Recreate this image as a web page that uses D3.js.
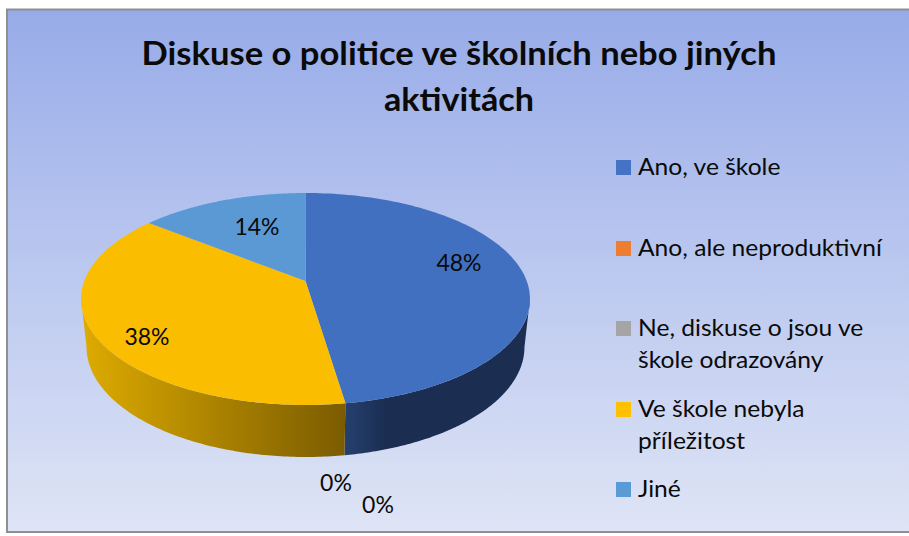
<!DOCTYPE html>
<html lang="cs"><head><meta charset="utf-8">
<script src="https://cdn.jsdelivr.net/npm/d3@7"></script>
<style>html,body{margin:0;padding:0;background:#fff;overflow:hidden}svg{display:block}text{font-family:Lato,"Open Sans",sans-serif;fill:#0a0a0a}</style>
</head><body><div id="c"></div>
<script>
const titleLines = ["Diskuse o politice ve školních nebo jiných", "aktivitách"];
const categories = ["Ano, ve škole", "Ano, ale neproduktivní", "Ne, diskuse o jsou ve škole odrazovány", "Ve škole nebyla příležitost", "Jiné"];
const legendLines = [["Ano, ve škole"], ["Ano, ale neproduktivní"], ["Ne, diskuse o jsou ve", "škole odrazovány"], ["Ve škole nebyla", "příležitost"], ["Jiné"]];
const values = [47.6, 0, 0, 38.1, 14.3];
const colors = ["#4472c4", "#ed7d31", "#a5a5a5", "#ffc000", "#5b9bd5"];
const topColors = ["#4170c0", "#ed7d31", "#a5a5a5", "#fbbd00", "#5b99d5"];
const legendY = [167, 248, 328, 409, 489];
const labelPos = [[459, 263], [336, 483], [378, 505], [147, 337], [257, 227]];

const W = 909, H = 536;
const svg = d3.select("#c").append("svg").attr("width", W).attr("height", H);
const defs = svg.append("defs");
const bg = defs.append("linearGradient").attr("id", "bg").attr("x1", 0.5).attr("y1", 0).attr("x2", 0.5).attr("y2", 1);
bg.append("stop").attr("offset", 0).attr("stop-color", "#97abe8");
bg.append("stop").attr("offset", 1).attr("stop-color", "#dfe5f6");
const gy = defs.append("linearGradient").attr("id", "sideY").attr("gradientUnits", "userSpaceOnUse").attr("x1", 85).attr("x2", 345).attr("y1", 0).attr("y2", 0);
gy.append("stop").attr("offset", 0).attr("stop-color", "#dcaa00");
gy.append("stop").attr("offset", 1).attr("stop-color", "#7b5c00");
const gb = defs.append("linearGradient").attr("id", "sideB").attr("gradientUnits", "userSpaceOnUse").attr("x1", 345).attr("x2", 385).attr("y1", 0).attr("y2", 0);
gb.append("stop").attr("offset", 0).attr("stop-color", "#25406f");
gb.append("stop").attr("offset", 1).attr("stop-color", "#1b2e52");

svg.append("rect").attr("x", 7).attr("y", 9.5).attr("width", 920).attr("height", 522.5)
  .attr("fill", "url(#bg)").attr("stroke", "#8f8f8f").attr("stroke-width", 2);

const stretch = (sel, k) => sel.each(function () {
  d3.select(this).attr("textLength", this.getComputedTextLength() * k).attr("lengthAdjust", "spacingAndGlyphs");
});

svg.selectAll("text.title").data(titleLines).join("text").attr("class", "title")
  .attr("x", 459).attr("y", (d, i) => 65 + i * 46).attr("text-anchor", "middle")
  .attr("font-size", 33).attr("font-weight", 700).text(d => d)
  .each(function (d, i) { d3.select(this).attr("textLength", [635, 150][i]).attr("lengthAdjust", "spacingAndGlyphs"); });

const cx = 305.5, c = -0.1698, a = 55.2, b = 281, K = 221.2;
const radius = d3.scaleLinear().domain([0, 1]).range([0, K]);
const project = (ang, r) => {
  const u = r * Math.sin(ang), v = -r * Math.cos(ang), d = 1 + c * v;
  return [cx + radius(u) / d, (a * v + b) / d];
};
const lowerPt = p => [cx + (p[0] - cx) * 0.9755, 347 + (p[1] - 299) * 1.038];
const pie = d3.pie().sort(null).value(d => d);
const arcs = pie(values);
const samples = (s, e) => d3.range(0, 121).map(i => s + (e - s) * i / 120);
const line = d3.line();

// side wall, only for the front-facing part of the rim
const frontStart = Math.PI / 2 + 0.17, frontEnd = 3 * Math.PI / 2 - 0.17;
const sideFill = ["url(#sideB)", null, null, "url(#sideY)", null];
arcs.forEach((d, i) => {
  if (d.endAngle - d.startAngle <= 0) return;
  const s = Math.max(d.startAngle, frontStart), e = Math.min(d.endAngle, frontEnd);
  if (e <= s) return;
  const upper = samples(s, e).map(t => project(t, 1));
  const lower = upper.map(lowerPt).reverse();
  svg.append("path").attr("d", line(upper.concat(lower)) + "Z")
    .attr("fill", sideFill[i] || colors[i]);
});

// top face
svg.selectAll("path.slice").data(arcs).join("path").attr("class", "slice")
  .attr("d", d => d.endAngle - d.startAngle <= 0 ? null :
    line([project(0, 0)].concat(samples(d.startAngle, d.endAngle).map(t => project(t, 1)))) + "Z")
  .attr("fill", (d, i) => topColors[i]);

// data labels
svg.selectAll("text.lab").data(arcs).join("text").attr("class", "lab")
  .attr("x", (d, i) => labelPos[i][0]).attr("y", (d, i) => labelPos[i][1] + 8)
  .attr("text-anchor", "middle").attr("font-size", 23)
  .text(d => d3.format(".0f")(d.value) + "%");

// legend
const lg = svg.selectAll("g.lg").data(categories).join("g").attr("class", "lg");
lg.append("rect").attr("x", 616).attr("y", (d, i) => legendY[i] - 7).attr("width", 15).attr("height", 15)
  .attr("fill", (d, i) => colors[i]);
lg.each(function (d, i) {
  d3.select(this).selectAll("text").data(legendLines[i]).join("text")
    .attr("x", 638).attr("y", (t, j) => legendY[i] + 8 + j * 32).attr("font-size", 24).text(t => t)
    .call(stretch, 1.025);
});
</script></body></html>
